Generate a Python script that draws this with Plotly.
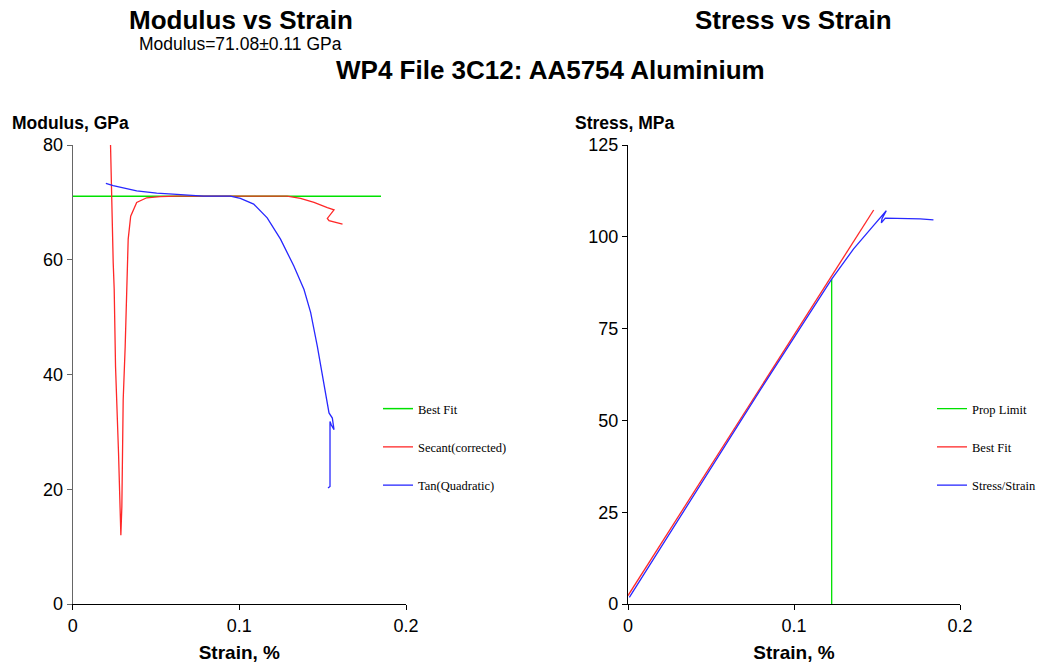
import plotly.graph_objects as go

# ---------------- data ----------------
# Left panel: Modulus vs Strain
bestfit_strain = [0.0, 0.185]
bestfit_modulus = [71.08, 71.08]

secant_strain = [0.0227, 0.0233, 0.0243, 0.0249, 0.0257, 0.0275, 0.0283, 0.0289,
                 0.0295, 0.0303, 0.0315, 0.0323, 0.0333, 0.0348, 0.0384, 0.0444,
                 0.0524, 0.0625, 0.0964, 0.1287, 0.1367, 0.1448, 0.1528, 0.1568,
                 0.1528, 0.1538, 0.1619]
secant_modulus = [80.0, 71.0, 59.5, 54.8, 41.4, 26.3, 16.4, 12.0,
                  17.0, 35.6, 44.9, 54.8, 63.6, 67.6, 70.0, 70.8,
                  71.0, 71.1, 71.1, 71.1, 70.7, 70.0, 69.1, 68.7,
                  67.2, 66.8, 66.2]

tan_strain = [0.0199, 0.0243, 0.0384, 0.0504, 0.0625, 0.0785, 0.0946, 0.1006,
              0.1086, 0.1167, 0.1247, 0.1327, 0.1388, 0.1428, 0.1468, 0.1508,
              0.1538, 0.1558, 0.1568, 0.1552, 0.1544, 0.1544, 0.1532]
tan_modulus = [73.3, 72.9, 72.0, 71.6, 71.4, 71.1, 71.1, 70.7,
               69.7, 67.3, 63.6, 58.9, 54.8, 50.8, 44.9, 37.9,
               33.3, 32.4, 30.4, 31.2, 31.8, 20.5, 20.2]

# Right panel: Stress vs Strain
prop_strain = [0.1227, 0.1227]
prop_stress = [0.0, 88.5]

fit_strain = [0.0, 0.148]
fit_stress = [2.3, 107.3]

ss_strain = [0.0008, 0.0400, 0.0800, 0.1227, 0.1359, 0.1480, 0.1556,
             0.1530, 0.1526, 0.1550, 0.1760, 0.1840]
ss_stress = [1.8, 30.0, 58.5, 88.5, 96.7, 103.1, 107.1,
             104.9, 103.8, 105.1, 104.9, 104.6]

left_yticks = [0, 20, 40, 60, 80]
right_yticks = [0, 25, 50, 75, 100, 125]
x_ticks = [0, 0.1, 0.2]
x_ticktext = ["0", "0.1", "0.2"]

# ---------------- style ----------------
GREEN = "rgb(0,225,0)"
RED = "rgb(255,40,40)"
BLUE = "rgb(40,40,255)"
SANS = "Liberation Sans, Arial, sans-serif"
SERIF = "Liberation Serif, Times New Roman, serif"
W, H = 1043, 666

fig = go.Figure()

fig.add_trace(go.Scatter(x=bestfit_strain, y=bestfit_modulus, mode="lines",
                         name="Best Fit", line=dict(color=GREEN, width=1.5),
                         xaxis="x", yaxis="y", legend="legend", legendgroup="a"))
fig.add_trace(go.Scatter(x=secant_strain, y=secant_modulus, mode="lines",
                         name="Secant(corrected)", line=dict(color=RED, width=1.3),
                         xaxis="x", yaxis="y", legend="legend", legendgroup="b"))
fig.add_trace(go.Scatter(x=tan_strain, y=tan_modulus, mode="lines",
                         name="Tan(Quadratic)", line=dict(color=BLUE, width=1.3),
                         xaxis="x", yaxis="y", legend="legend", legendgroup="c"))

fig.add_trace(go.Scatter(x=prop_strain, y=prop_stress, mode="lines",
                         name="Prop Limit", line=dict(color=GREEN, width=1.3),
                         xaxis="x2", yaxis="y2", legend="legend2", legendgroup="d"))
fig.add_trace(go.Scatter(x=fit_strain, y=fit_stress, mode="lines",
                         name="Best Fit", line=dict(color=RED, width=1.3),
                         xaxis="x2", yaxis="y2", legend="legend2", legendgroup="e"))
fig.add_trace(go.Scatter(x=ss_strain, y=ss_stress, mode="lines",
                         name="Stress/Strain", line=dict(color=BLUE, width=1.3),
                         xaxis="x2", yaxis="y2", legend="legend2", legendgroup="f"))

ydom = [1 - 604 / H, 1 - 145 / H]
axis_common = dict(showgrid=False, zeroline=False, showline=True, linewidth=1.2,
                   ticks="outside", ticklen=5, tickwidth=1.2,
                   tickfont=dict(family=SANS, size=18, color="black"),
                   automargin=False, fixedrange=True)

fig.update_layout(
    width=W, height=H,
    margin=dict(l=0, r=0, t=0, b=0),
    paper_bgcolor="white", plot_bgcolor="white",
    xaxis=dict(domain=[72.7 / W, 406 / W], range=[0, 0.2], tickvals=x_ticks,
               ticktext=x_ticktext, linecolor="black", tickcolor="black",
               anchor="y",
               title=dict(text="<b>Strain, %</b>", standoff=10,
                          font=dict(family=SANS, size=19, color="black")),
               **axis_common),
    yaxis=dict(domain=ydom, range=[0, 80], tickvals=left_yticks,
               linecolor="#666666", tickcolor="#666666", anchor="x",
               **axis_common),
    xaxis2=dict(domain=[628 / W, 960 / W], range=[0, 0.2], tickvals=x_ticks,
                ticktext=x_ticktext, linecolor="black", tickcolor="black",
                anchor="y2",
                title=dict(text="<b>Strain, %</b>", standoff=10,
                           font=dict(family=SANS, size=19, color="black")),
                **axis_common),
    yaxis2=dict(domain=ydom, range=[0, 125], tickvals=right_yticks,
                linecolor="black", tickcolor="black", anchor="x2",
                **axis_common),
    legend=dict(x=378 / W, y=1 - 394 / H, xanchor="left", yanchor="top",
                bgcolor="rgba(0,0,0,0)", borderwidth=0, itemwidth=30,
                tracegroupgap=19, traceorder="grouped",
                font=dict(family=SERIF, size=12.5, color="black")),
    legend2=dict(x=932 / W, y=1 - 394 / H, xanchor="left", yanchor="top",
                 bgcolor="rgba(0,0,0,0)", borderwidth=0, itemwidth=30,
                 tracegroupgap=19, traceorder="grouped",
                 font=dict(family=SERIF, size=12.5, color="black")),
    showlegend=True,
)

annotations = [
    dict(text="<b>Modulus vs Strain</b>", x=241 / W, y=1 - 20 / H,
         font=dict(family=SANS, size=26, color="black")),
    dict(text="Modulus=71.08±0.11 GPa", x=240.5 / W, y=1 - 44 / H,
         font=dict(family=SANS, size=17.5, color="black")),
    dict(text="<b>WP4 File 3C12: AA5754 Aluminium</b>", x=550 / W, y=1 - 70 / H,
         font=dict(family=SANS, size=26, color="black")),
    dict(text="<b>Stress vs Strain</b>", x=793.5 / W, y=1 - 20 / H,
         font=dict(family=SANS, size=26, color="black")),
]
for a in annotations:
    a.update(xref="paper", yref="paper", xanchor="center", yanchor="middle",
             showarrow=False)
fig.add_annotation(text="<b>Modulus, GPa</b>", x=10 / W, y=1 - 123 / H,
                   xref="paper", yref="paper", xanchor="left", yanchor="middle",
                   showarrow=False, font=dict(family=SANS, size=17.5, color="black"))
fig.add_annotation(text="<b>Stress, MPa</b>", x=573 / W, y=1 - 123 / H,
                   xref="paper", yref="paper", xanchor="left", yanchor="middle",
                   showarrow=False, font=dict(family=SANS, size=17.5, color="black"))
for a in annotations:
    fig.add_annotation(**a)

fig.write_html("out.html")
